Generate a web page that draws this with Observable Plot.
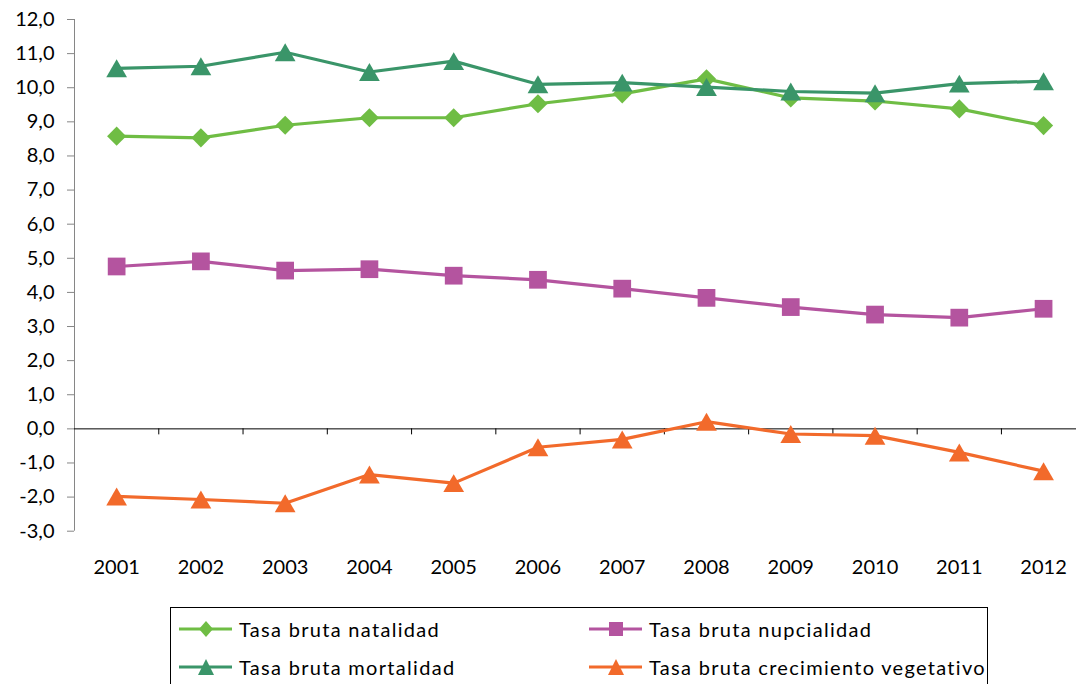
<!DOCTYPE html>
<html><head><meta charset="utf-8">
<script src="https://cdn.jsdelivr.net/npm/d3@7"></script>
<script src="https://cdn.jsdelivr.net/npm/@observablehq/plot@0.6"></script>
<style>
body{margin:0;background:#fff;font-family:Lato,sans-serif;}
#wrap{position:relative;width:1076px;height:684px;overflow:hidden;background:#fff;}
#legend{position:absolute;left:170px;top:607px;width:818px;height:120px;border:1px solid #000;box-sizing:border-box;}
.item{position:absolute;display:flex;align-items:center;height:30px;font-size:20px;letter-spacing:1.3px;color:#000;white-space:nowrap;}
.item svg{margin-right:5px;}
</style></head><body>
<div id="wrap"><div id="chart"></div><div id="legend"></div></div>
<script>
const years = [2001,2002,2003,2004,2005,2006,2007,2008,2009,2010,2011,2012];
const natalidad   = [8.58,8.53,8.90,9.12,9.12,9.53,9.82,10.26,9.70,9.61,9.38,8.89];
const nupcialidad = [4.76,4.91,4.64,4.68,4.49,4.37,4.11,3.84,3.57,3.35,3.26,3.52];
const mortalidad  = [10.57,10.63,11.04,10.46,10.78,10.10,10.15,10.02,9.89,9.84,10.12,10.19];
const crecimiento = [-1.98,-2.07,-2.18,-1.34,-1.59,-0.54,-0.31,0.21,-0.15,-0.20,-0.69,-1.24];
const seriesNames = ["Tasa bruta natalidad","Tasa bruta nupcialidad","Tasa bruta mortalidad","Tasa bruta crecimiento vegetativo"];
const yTicks = [-3,-2,-1,0,1,2,3,4,5,6,7,8,9,10,11,12];

const colors = ["#6fbd44","#b4549f","#3a9569","#f26a2b"];
const symbols = ["diamond2","square","triangle","triangle"];
const radii = [8.6,10,7.7,7.7];
const dys = [0,0,3,3];
const allValues = [natalidad,nupcialidad,mortalidad,crecimiento];

const boundaries = years.slice(0,-1).map(y => y + 0.5);
const fmt = v => v.toFixed(1).replace(".", ",");

const marks = [
  Plot.ruleX([years[0]-0.5], {y1: yTicks[0], y2: yTicks[yTicks.length-1], stroke: "#868686", strokeWidth: 1}),
  Plot.axisY({ticks: yTicks, tickSize: 7, tickPadding: 13, tickFormat: fmt, stroke: "#868686", fill: "#000", label: null}),
  Plot.axisX({ticks: years, tickSize: 0, tickPadding: 29, tickFormat: d => String(d), fill: "#000", label: null}),
  Plot.ruleY([0], {stroke: "#000", strokeWidth: 1}),
  Plot.ruleX(boundaries, {y1: 0, y2: 0, stroke: "#000", insetBottom: -6})
];
allValues.forEach((vals, s) => {
  const data = years.map((y, i) => ({year: y, value: vals[i]}));
  marks.push(Plot.line(data, {x: "year", y: "value", stroke: colors[s], strokeWidth: 3.2}));
  marks.push(Plot.dot(data, {x: "year", y: "value", symbol: symbols[s], r: radii[s], fill: colors[s], stroke: "none", dy: dys[s]}));
});

const chart = Plot.plot({
  width: 1076,
  height: 600,
  marginTop: 19,
  marginBottom: 69.3,
  marginLeft: 74,
  marginRight: 0,
  style: {fontFamily: "Lato, sans-serif", fontSize: "20px", background: "#fff", color: "#000"},
  x: {type: "linear", domain: [years[0]-0.5, years[years.length-1]+0.5], range: [74, 1085.2]},
  y: {domain: [yTicks[0], yTicks[yTicks.length-1]]},
  marks
});
chart.style.display = "block";
document.getElementById("chart").appendChild(chart);

// legend
const legend = document.getElementById("legend");
const pos = [[6,6],[416,6],[6,44],[416,44]];
const legendSym = ["diamond","square","triangle","triangle"];
seriesNames.forEach((name, s) => {
  const item = document.createElement("div");
  item.className = "item";
  item.style.left = pos[s][0] + "px";
  item.style.top = pos[s][1] + "px";
  const c = colors[s];
  let marker;
  if (legendSym[s] === "diamond") marker = `<path d="M29 7 L36 15 L29 23 L22 15 Z" fill="${c}"/>`;
  else if (legendSym[s] === "square") marker = `<rect x="22" y="8" width="14" height="14" fill="${c}"/>`;
  else marker = `<path d="M29 7 L37 23 L21 23 Z" fill="${c}"/>`;
  item.innerHTML = `<svg width="57" height="30"><line x1="2" y1="15" x2="55" y2="15" stroke="${c}" stroke-width="3.2"/>${marker}</svg><span>${name}</span>`;
  legend.appendChild(item);
});
</script>
</body></html>
